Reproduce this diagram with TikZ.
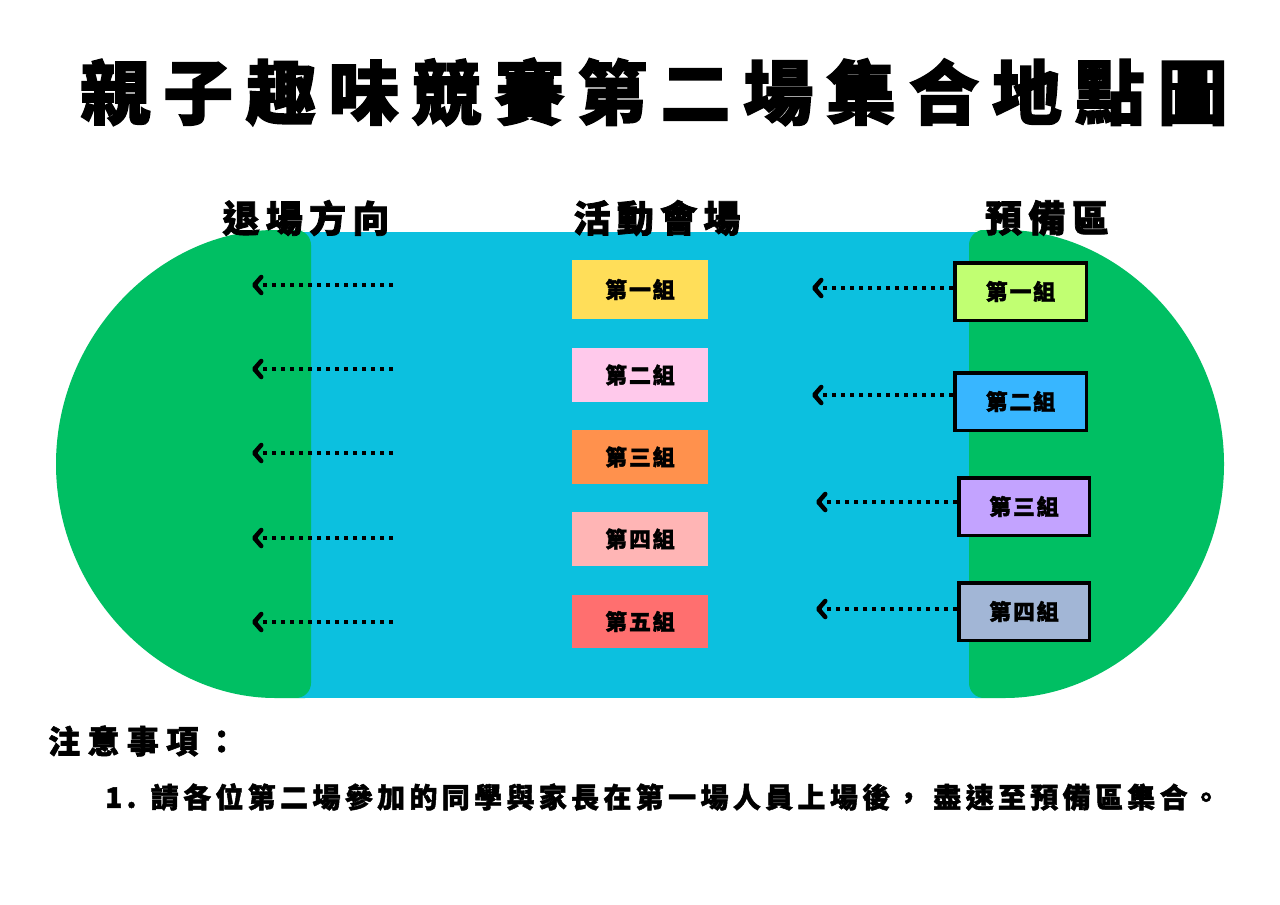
\documentclass[tikz,border=0pt]{standalone}
\usepackage{fontspec}
\setmainfont{Noto Sans CJK TC}
\usetikzlibrary{arrows.meta}
\definecolor{cfield}{HTML}{0CC0DF}
\definecolor{cgreen}{HTML}{00BF63}
\definecolor{cyel}{HTML}{FFDE59}
\definecolor{cpink}{HTML}{FFC9EB}
\definecolor{corange}{HTML}{FF914D}
\definecolor{csalmon}{HTML}{FFB5B5}
\definecolor{cred}{HTML}{FF6F6F}
\definecolor{clime}{HTML}{C1FF72}
\definecolor{csky}{HTML}{38B6FF}
\definecolor{cpurple}{HTML}{C3A3FF}
\definecolor{cgrey}{HTML}{A2B6D6}
\newcommand\lsp[2]{\addfontfeatures{LetterSpace=#1,FakeBold=#2}}
\begin{document}
\begin{tikzpicture}[x=1pt,y=-1pt,
  titletext/.style={inner sep=0pt,font=\bfseries\fontsize{70}{80}\selectfont\lsp{18.4}{2.2}},
  headtext/.style={inner sep=0pt,font=\bfseries\fontsize{37}{44}\selectfont\lsp{17}{2}},
  cbox/.style={draw=none,minimum width=136pt,inner sep=0pt,font=\bfseries\fontsize{22}{26}\selectfont\lsp{8}{1.5}},
  rbox/.style={draw=black,line width=3.5pt,minimum height=57.5pt,inner sep=0pt,font=\bfseries\fontsize{22}{26}\selectfont\lsp{8}{1.5}},
  dotarr/.style={line width=4.5pt,dash pattern=on 4.5pt off 4.5pt,
    -{Straight Barb[length=7pt,width=16pt,round,line width=4.5pt]}},
  notetext/.style={inner sep=0pt,anchor=west}
]
\fill[white] (0,0) rectangle (1280,905);
\useasboundingbox (0,0) rectangle (1280,905);
% field
\fill[cfield] (285,232) rectangle (995,698);
\fill[cgreen,rounded corners=15pt] (311,464) -- (311,230) -- (290,230)
  arc[start angle=270,end angle=90,radius=234] -- (311,698) -- cycle;
\fill[cgreen,rounded corners=15pt] (969,464) -- (969,230) -- (990,230)
  arc[start angle=270,end angle=450,radius=234] -- (969,698) -- cycle;
% titles
\node[titletext] (title) at (654,92) {親子趣味競賽第二場集合地點圖};
\node[headtext] (h1) at (306,218) {退場方向};
\node[headtext] (h2) at (657,218) {活動會場};
\node[headtext] (h3) at (1047,218) {預備區};
% middle groups
\node[cbox,fill=cyel,minimum height=59pt] (m1) at (640,289.5) {第一組};
\node[cbox,fill=cpink,minimum height=54pt] (m2) at (640,375) {第二組};
\node[cbox,fill=corange,minimum height=54pt] (m3) at (640,457) {第三組};
\node[cbox,fill=csalmon,minimum height=54pt] (m4) at (640,539) {第四組};
\node[cbox,fill=cred,minimum height=53pt] (m5) at (640,621.5) {第五組};
% right groups
\node[rbox,fill=clime,minimum width=131.5pt] (r1) at (1020.5,291.5) {第一組};
\node[rbox,fill=csky,minimum width=131.5pt] (r2) at (1020.5,401.5) {第二組};
\node[rbox,fill=cpurple,minimum width=130.5pt] (r3) at (1024,506.5) {第三組};
\node[rbox,fill=cgrey,minimum width=130.5pt] (r4) at (1024,611.5) {第四組};
% left arrows
\foreach \i/\y in {1/285,2/369,3/453,4/538,5/622}{
  \coordinate (ls\i) at (393,\y);
  \coordinate (le\i) at (252,\y);
  \draw[dotarr] (ls\i) -- (le\i);
}
% right arrows
\coordinate (re1) at (812,288);
\coordinate (re2) at (812,395);
\coordinate (re3) at (816,502);
\coordinate (re4) at (816,609);
\draw[dotarr] (r1.west |- re1) -- (re1);
\draw[dotarr] (r2.west |- re2) -- (re2);
\draw[dotarr] (r3.west |- re3) -- (re3);
\draw[dotarr] (r4.west |- re4) -- (re4);
% notes
\node[notetext,font=\bfseries\fontsize{32}{38}\selectfont\lsp{23}{1.8}] (n1) at (48,741) {注意事項：};
\node[notetext,font=\bfseries\fontsize{28}{32}\selectfont\lsp{15.5}{1.6}] (n2) at (105,797) {1. 請各位第二場參加的同學與家長在第一場人員上場後， 盡速至預備區集合。};
\end{tikzpicture}
\end{document}
